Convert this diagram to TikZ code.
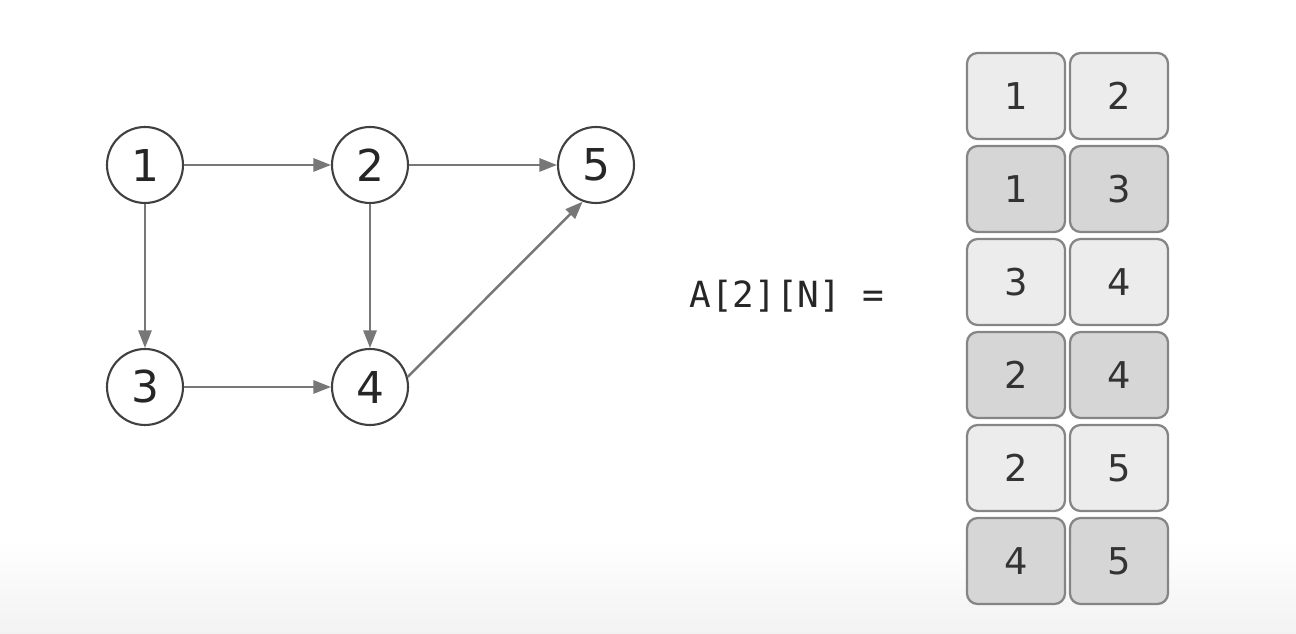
\documentclass[tikz,border=0pt]{standalone}
\usepackage{fontspec}
\setmainfont{DejaVu Sans}
\setmonofont{DejaVu Sans Mono}
\usetikzlibrary{arrows.meta,positioning}
\definecolor{edgegray}{HTML}{777777}
\definecolor{celllight}{HTML}{ECECEC}
\definecolor{celldark}{HTML}{D6D6D6}
\definecolor{cellborder}{HTML}{858585}

\begin{document}
\begin{tikzpicture}[x=0.02cm,y=-0.02cm,>={Triangle[length=10pt,width=7.5pt]},
  vertex/.style={circle,draw=black!75,line width=1.2pt,minimum size=1.52cm,inner sep=0pt,
    text=black!85,font=\fontsize{25}{25}\selectfont},
  edge/.style={->,draw=edgegray,fill=edgegray,line width=1.4pt},
  cell/.style={draw=cellborder,rounded corners=6pt,line width=1.3pt,minimum width=1.96cm,
    minimum height=1.72cm,inner sep=0pt,text=black!80,font=\fontsize{21}{21}\selectfont}]
  \useasboundingbox (0,0) rectangle (1296,634);
  \shade[top color=white,bottom color=black!5] (0,540) rectangle (1296,634);

  % graph
  \node[vertex] (v1) at (145,165) {1};
  \node[vertex] (v2) at (370,165) {2};
  \node[vertex] (v5) at (596,165) {5};
  \node[vertex] (v3) at (145,387) {3};
  \node[vertex] (v4) at (370,387) {4};
  \draw[edge] (v1) -- (v2);
  \draw[edge] (v2) -- (v5);
  \draw[edge] (v1) -- (v3);
  \draw[edge] (v2) -- (v4);
  \draw[edge] (v3) -- (v4);
  \draw[edge] (v4.15) -- (v5.250);

  % edge list
  \node[font=\ttfamily\fontsize{20.5}{20.5}\selectfont,text=black!85] (lbl) at (787,296) {A[2][N] =};
  \foreach \a/\b/\c [count=\i] in {1/2/celllight,1/3/celldark,3/4/celllight,2/4/celldark,2/5/celllight,4/5/celldark}{
    \node[cell,fill=\c] (a\i) at (1016,{96+(\i-1)*93}) {\a};
    \node[cell,fill=\c] (b\i) at (1119,{96+(\i-1)*93}) {\b};
  }
\end{tikzpicture}
\end{document}
